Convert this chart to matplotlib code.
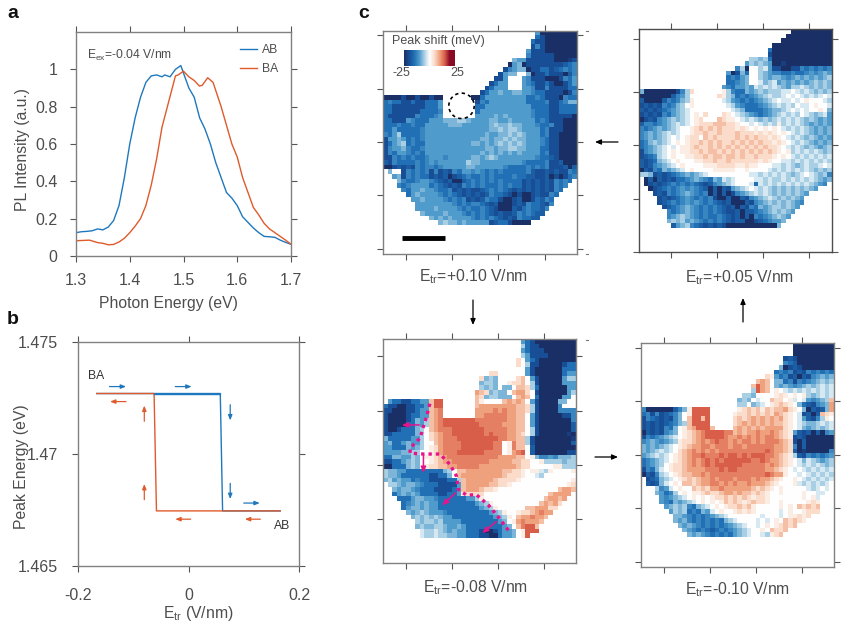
from matplotlib import pyplot as plt
from matplotlib.colors import LinearSegmentedColormap
import numpy as np

plt.rcParams['font.family'] = ['Liberation Sans', 'DejaVu Sans']
plt.rcParams['mathtext.default'] = 'regular'

# panel a spectra
e_ab = [1.30, 1.31, 1.32, 1.33, 1.34, 1.35, 1.36, 1.37, 1.38, 1.39, 1.40, 1.41, 1.42, 1.43, 1.44, 1.45, 1.46, 1.465, 1.475, 1.485, 1.495, 1.50, 1.51, 1.52, 1.53, 1.54, 1.55, 1.56, 1.57, 1.58, 1.59, 1.60, 1.61, 1.62, 1.63, 1.64, 1.65, 1.66, 1.67, 1.68, 1.69, 1.70]
i_ab = [.125, .13, .132, .135, .145, .14, .155, .19, .27, .42, .60, .74, .85, .93, .965, .97, .96, .97, .96, 1.0, 1.02, .98, .90, .85, .74, .68, .60, .50, .42, .34, .31, .27, .21, .18, .15, .125, .105, .103, .10, .085, .073, .063]
e_ba = [1.30, 1.31, 1.325, 1.34, 1.35, 1.36, 1.37, 1.38, 1.39, 1.40, 1.41, 1.42, 1.43, 1.44, 1.45, 1.46, 1.47, 1.48, 1.485, 1.49, 1.50, 1.51, 1.52, 1.53, 1.535, 1.545, 1.555, 1.57, 1.58, 1.59, 1.60, 1.61, 1.62, 1.63, 1.64, 1.65, 1.66, 1.67, 1.68, 1.69, 1.70]
i_ba = [.082, .083, .085, .072, .068, .06, .062, .075, .095, .125, .16, .20, .27, .38, .52, .69, .80, .91, .965, .97, .99, .96, .94, .91, .915, .955, .93, .80, .70, .60, .53, .42, .34, .26, .22, .175, .145, .125, .105, .085, .063]

# panel b hysteresis
field_up = [-0.166, -0.0623, 0.0575, 0.0617, 0.166]
peak_up = [1.4727, 1.4727, 1.4727, 1.46746, 1.46746]
field_down = [-0.166, -0.0623, -0.058, 0.166]
peak_down = [1.4727, 1.4727, 1.46746, 1.46746]

# panel c maps, columns grouped 10|10|10|12
# digit d means (d-5)*5 meV, letters a-i are the half steps 0.5-8.5, . is no data
map_p10 = [
    "..........|..........|..........|...300000000",
    "..........|..........|..........|...210000000",
    "..........|..........|..........|..2110000000",
    "..........|..........|..........|..1c10000000",
    "..........|..........|..........|.31110000000",
    "..........|..........|..........|.c1111100000",
    "..........|..........|........d3|3111111000a1",
    "..........|..........|.......03d|011111111b2c",
    "..........|..........|......1c3d|d011221b2c2c",
    "..........|..........|.....13dd5|5d01121110bc",
    "..........|..........|....113...|3c1110001c23",
    "..........|..........|...1233...|3c2112100123",
    "..........|..........|..12333...|33c11c111122",
    "..........|..........|.1233d33dd|33c22111101c",
    "0000100100|100......0|0233333333|322c21110c22",
    "2c22112112|223.......|1c23333333|32222c112cdd",
    "2211111112|223.......|2233333333|332222112222",
    "2211111122|22c.......|2333333333|33c222112222",
    "2111111c22|2c3.......|3333d3d333|33c222111110",
    "221113c222|333ddd44d3|333dd33d33|3332c2111000",
    "222c22c223|3333ddd333|333d4dd4dd|333c22c11000",
    "2232222 2c3|3333333333|333dd4d44d|33332c111000".replace(' ', ''),
    "c2342222c3|3333333333|33d33dd4d4|d3332c110000",
    "133d32c2c3|3333333333|3dd3dd4d4d|d333c2110000",
    "123d42c223|333333333d|d3d3d4d4d4|d333c2110000",
    "1c33dc22c3|3333333333|33dd3dd44d|d33322110000",
    "1c233c2c23|3333333333|3d3d3d3d3d|33332c110000",
    "11c2c2c22c|333c33333d|d3d4d33333|333c22b10000",
    "b1c2222c2c|3c3333334d|d333333333|c2222c11b000",
    "001b1b1c2c|c2c33333dd|333333c222|2c2c2c111b0b",
    ".d5.1c2c2c|1c1b1c233c|3c2c2c2222|2cb11b1b11c2",
    "..3d1c2c22|1b1b01b2c2|2c2c2222c2|2bb11b01012c",
    "...dc22c33|c2b1b00b2c|2c2c2c2222|1b1b1b1c2c2.",
    "...c2c3333|2c2b1b1c2c|2c222c2c22|1b1b1b1c2c..",
    "....c233d3|3c22c1b1b1|1b2c2c2b1b|1b1b1b1c2...",
    ".....23d33|33c2c2b1b1|b1bc22b101|001b11c2....",
    "......33d3|333c2c2c1b|1bc221001b|0012bc2.....",
    ".......333|33333c2c2c|c2b1b0001b|1c22b1c.....",
    ".......333|3d3333c2c2|2c2b1000b1|2c22bc......",
    "........d3|333d333c2c|2c2b1b11bc|2c2bb.......",
    "..........|d3d3d3333c|2c2c2b1b1c|22bb........",
    "..........|..d4dd3d33|3331b22100|00..........",
]
map_p05 = [
    "..........|..........|..........|...000000000",
    "..........|..........|..........|..0000000000",
    "..........|..........|..........|.00000000000",
    "..........|..........|.........0|000000000000",
    "..........|..........|........20|000000000000",
    "..........|..........|........10|000000000000",
    "..........|..........|....44d420|000000000000",
    "..........|..........|...34d4d30|0a0000000000",
    "..........|..........|.c405.4e31|10011c2c2c2c",
    "..........|.........3|01d2..4d3c|c22c22c3c3d3",
    "..........|.........2|c23d..4d3d|d3c3d3d3d3d4",
    "..........|.........2|2c3d..ed4e|3d3d3d3d4d4d",
    "..........|........3c|233d3e4e4e|4d344e4d4d4d",
    "d00000001c|46......f4|c22d3d4d44|4ee5e4e4d4d4",
    "0000000bc3|45.....6f4|d2c2c3d4e4|4e5e5e4e4e5e",
    "b0000bc2cd|4f......e4|3c2c2c3d4e|5ee5e5f555e4",
    "1b1b1c2cd4|5f.......e|43c222c3d4|e4e45ee5f55e",
    "b1b1b2c3d4|e5.......5|e4d2222c3d|d4e5e5e55f5d",
    "1b1b1c23d4|e5f.6...6f|5e4d3c2c3d|4e4e45e4d4e3",
    "01b1c3d4d4|e5f6...g6f|f5e4e4d4d4|e4e4e4d4d3d3",
    "bcc2c3d4e4|e5f666ggg6|6f55e5e4e4|f4e4e4d3d3d3",
    "c2c3d3d4e5|5f6g6g6g66|6f6f5f5f5f|5e4e4e4d3d3d",
    "c3d3d4e4e5|5f66g66g66|6g666f6f6f|5f5e4e4d3d3d",
    "c3d3d4e5e5|f66.g6g666|6g6g6g66f6|f5e4e4d4d3d3",
    "2cd4d4e5f5|f66g6g6g66|g6g6g6g66f|6f5e4e4d3d3d",
    "2c3d4e5e5f|f6g66g6g6g|6g6g6g6g66|f5e4e4d4d3d4",
    "1c3d4e5f5f|f66g6gg6g6|g6g6g6g6g6|f5f4e4e4e4d4",
    "1b2c4e5f55|ff66g6gg6g|g6g66g666f|5f5e4e4e4e4e",
    "b1b2d4e5f5|55ff66g66g|666666f6f5|5ee4e4e4e4e4",
    "b1bc3d4e5f|5555fff666|6ff6ff555e|e4e4d4e44e5e",
    "0b1c2d3d4e|5f5555ffff|f55f5555e4|e4e4e4e4d4d4",
    "44d1b1b2c3|d3d4e55555|5555ee4e4e|4e4d4e5e4d4c",
    ".0b0b1b122|c3d3c2d3e4|e5555ee4e4|4e4e4e4e4d3d",
    ".01b1b2c2c|2c2b1bc3d4|e555e2e4e4|e4e4e4e4d3c.",
    "..01b2c2c3|c3c2b0b0b1|3d4e5e4e4d|4d4d4d4d3...",
    "...1b1c2c3|d3c2c0b0b0|1c3d4e4e4d|4d4d4d3.....",
    "....1b1b2c|3c2c2c100b|00b1c3d4e4|d4d4d3......",
    "....1b2c2c|3c3c2c2b1b|000b1c3d4d|4d4d3c......",
    ".....1b2c3|d3c2c2c2b1|b0b1c2d3d4|4d4d3.......",
    "......c2c3|d3c2c2c2b1|1b0bb2c3d4|d4d3........",
    "......c3d4|d3c2c22c2b|1b0b0c2c3d|4d3.........",
    "......d4d4|3d3c2c2c2b|1bb001b2c3|3d..........",
    ".......b3d|4c2b1b1b10|0000000000|d...........",
]
map_m08 = [
    "..........|..........|..........|321000000000",
    "..........|..........|..........|421100000000",
    "..........|..........|..........|321110000000",
    "..........|..........|..........|431111000000",
    "..........|..........|.........6|532100000000",
    "..........|..........|.........6|541100000122",
    "..........|..........|..........|531000000222",
    "..........|..........|..566.....|531000000233",
    "..........|..........|.6d4d5..56|g53100000344",
    "..........|..........|.d44d55f66|g54100000333",
    "..........|..........|.4d4d5dd5g|g64200000033",
    "..........|..........|7g6d4dd5g7|765100000034",
    "..........|..........|g6d44ddd5g|7g5200000335",
    ".322112233|g88.......|gf5555g7g7|g5310000dd55",
    "2110011223|g88.......|g77777777g|g6410000c555",
    "1100011233|g7h.......|7777h7h77g|g6410000cccc",
    "1000012233|g7h.......|77hhhhh77g|g5310000011c",
    "1000012d34|g7h8888888|hhhhhhh77g|g5310000000c",
    "1000022d34|g7h8888888|8hhhhh777g|g5310000000b",
    "1001222d45|g7hhh88888|88hhhhh77g|g5410000000b",
    "1122222d45|6g7hh88888|88h8hhh77g|6541000000a0",
    "d222223345|6g7hhh8888|88888hh77g|g4100000000a",
    "3d223d3345|5g7hhhh888|8888hh5fhg|g4100000000b",
    "33222d3d45|f67hhhh888|8888hh5fhg|g5b000000000",
    "3333dd4455|f67hhh8888|88hhhh5f7h|85b000000011",
    "22dd334d5f|f6g7hhhhhh|hhhhh7777g|g5fdcc3cddd4",
    "11223d4d55|f6g77hhhhh|hhh77777gg|6655f4444d44",
    "00222d4d5f|66gg77hhhh|h77777777g|6655555ff444",
    "4dd3322222|222d45gg77|777777gg66|f5ffe4f5555f",
    "4dd3222222|1122d5g777|777777g666|f55e45555555",
    "d43d332c22|1111224g77|7777g6666f|55555555555f",
    ".44d3dd3c2|2211113g77|777gg66f55|5555555555f6",
    "..d3dd3c22|2111123g77|7g66f55555|55555555g77g",
    "..23d3d322|2211223f66|6655555555|555555g7777.",
    "...2223dd3|3c22222233|4f55555555|55555g77g7..",
    "....2c3d3d|3322222222|3d4f555555|5555g7g76...",
    "....23dd3d|3322222222|23d4f55555|5gg77766....",
    ".....d3d4d|333c222222|2223d4f55f|66g7h77.....",
    "......d4d4|d4d3322222|22223d4f5g|77h77g......",
    ".......4d4|4d43333222|222223d5f7|h777g.......",
    ".......d4d|d44d33d322|2222223d5g|h88g........",
    "........e4|4e4d3d3322|21001233d5|f888........",
    "........e4|4e44dd3322|21100233d5|f8..........",
]
map_m10 = [
    "..........|..........|..........|...000000000",
    "..........|..........|..........|...000000000",
    "..........|..........|..........|...000000000",
    "..........|..........|..........|.1b100000000",
    "..........|..........|..........|.c2b00000000",
    "..........|..........|..........|d01b10000000",
    "..........|..........|.........2|c2c1b1c2c2c2",
    "..........|..........|.......6f3|2c1b0b1c3d3d",
    "..........|..........|.....g7g5d|d2c1c2c3d4d4",
    "..........|..........|....g87g5d|3d3c3d4d4e4e",
    "..........|..........|...5487g5f|5e4e4e4e4e4e",
    "..........|..........|..44d5555f|6f5f5f4d4e4e",
    "..........|..........|.d4d5e55g6|65fe5e3c3d4g",
    "..........|..........|.445d4e5f6|g6f5d2b1c3d7",
    "c000000bcd|f8888.....|5f6g6gfg6g|g76f5d0b1bd7",
    "2c1c1b2cd5|f8888.....|f66g6g6g67|g6f5e1b0bg6f",
    "1c2b1b1cd5|g88g8.....|6g6g7g7g7g|76f5e3b1c4f5",
    "1b1b1b2cd4|g8888.....|6g7g7g7g7g|g6f5e4dd4e4e",
    "1b1b1c2d5f|g7888g....|g7g7g7g777|76f5ed3d4d4e",
    "0b1b1c3d5f|6g7h8888hh|g7g77h77h7|g6f3b1b0b0c3",
    "1c2c3d4e5f|6g7h8888h7|7h7h7h7hh7|g6f1b1000000",
    "c3d3c3d4f6|6g7h7h8hh7|h7hh7h7hhh|7g610b000000",
    "d3d3d4e5f6|g77hh7hhh7|hh7hhhhhh7|7g6c0b000000",
    "d3d4e4e56g|7h7h7h7hhh|hhhhhhh8h7|7g6b0a00000c",
    "3d4e4e5f6g|7hh8hhh8h8|8h8h888hh7|g6f4b1c2c2c3",
    "2c3d4e5f6g|7h7h8h8h88|8888hh8h77|g6f5ede4d3d4",
    "2c3d45f66g|7h7h8h8888|88hhhhh7h7|g6f5e4e4e4d4",
    "1c2de5f66g|7777hhh8h8|8hhhhhh77g|6f5e5e4e4e4e",
    "0b1c4e5f6g|g77h7hhhhh|hhhhhhh8h7|7f55e5e4e4e4",
    ".1b2d4e5f6|g6g77h7hhh|7hhh7h77g6|f55f5e4e4e4e",
    ".b1bde5f5g|g6g77hh7h7|h77h777g6f|555fe4e4e4e5",
    "...4c3e5f5|5g6g677h77|7777g6g6f5|f55555e4e5e.",
    "...d32c45f|5ff6g66g77|g7gg6g6f55|f5555f55ee5.",
    "....3c3d4e|5f5f5f66g6|g6g6f66f55|55555f5fe...",
    "....3c2d3d|4e5f5f5fg6|g6f6g66f55|f55555f6f...",
    ".....3d4d4|c2d4e5f5f6|6g6gf55555|f5f5g6g6g...",
    "......34d4|2c2d3e5f55|f6f6f55555|e5f55f666...",
    ".......dd3|c2c2c3d4e5|555555e555|e5ff6f6.....",
    ".......d3d|c2c2c2c2d4|e5555e5e5f|5g6g6f......",
    "........d3|d3c2c2c2c3|d4e55e5f5f|6g6g........",
    ".........d|3c2c2b2c2c|3d4e55f5g6|6g..........",
    "..........|d3d3c2c2c2|3d4e55e4f6|g...........",
]

# annotations on the -0.08 V/nm map, in cell units
wall_col = [10.2, 9.5, 8.8, 8.1, 5.9, 5.9, 8.8, 12.4, 14.6, 16.0, 16.4, 18.2, 20.3, 22.9, 25.0, 27.6]
wall_row = [14.0, 16.7, 18.9, 21.4, 23.6, 24.7, 24.9, 24.9, 27.2, 29.7, 32.6, 33.8, 33.7, 35.9, 38.4, 41.8]
wall_arrows = [((7.9, 18.6), (4.1, 18.6)), ((8.8, 25), (8.8, 29)), ((15.8, 33.3), (12.9, 36)), ((24.7, 39.5), (21.6, 42))]

blue = '#1f78bd'
orange = '#df5a2c'
grey = '#808080'
text_c = '#4d4d4d'
W, H = 841, 626

fig = plt.figure(figsize=(W / 100, H / 100), dpi=100)


def add_axes(x0, x1, y0, y1):
    return fig.add_axes([x0 / W, 1 - y1 / H, (x1 - x0) / W, (y1 - y0) / H])


def style(ax, color=grey, xpad=9, ypad=9):
    ax.tick_params(top=True, right=True, direction='out', length=4.5, width=0.8, color='#555555',
                   labelcolor=text_c, labelsize=11.5)
    ax.tick_params(axis='x', pad=xpad)
    ax.tick_params(axis='y', pad=ypad)
    for s in ax.spines.values():
        s.set_color(color)
        s.set_linewidth(1.0)


# a
ax = add_axes(76, 291, 32, 256)
ax.plot(e_ab, i_ab, color=blue, lw=1, label='AB')
ax.plot(e_ba, i_ba, color=orange, lw=1, label='BA')
ax.set_xlim(1.3, 1.7)
ax.set_ylim(0, 1.2)
ax.set_xticks([1.3, 1.4, 1.5, 1.6, 1.7])
ax.set_xticklabels(['1.3', '1.4', '1.5', '1.6', '1.7'])
ax.set_yticks([0, .2, .4, .6, .8, 1])
ax.set_yticklabels(['0', '0.2', '0.4', '0.6', '0.8', '1'])
ax.set_xlabel('Photon Energy (eV)', fontsize=11.3, color=text_c)
ax.set_ylabel('PL Intensity (a.u.)', fontsize=11.3, color=text_c)
ax.xaxis.set_label_coords(0.428, -0.18)
ax.yaxis.set_label_coords(-0.215, 0.473)
style(ax, xpad=8, ypad=9)
ax.text(1.32, 1.075, 'E$_{ex}$=-0.04 V/nm', fontsize=8.7, color=text_c, va='center')
leg = ax.legend(frameon=False, loc='upper left', bbox_to_anchor=(0.765, 0.945), fontsize=8.7, handlelength=1.4,
                handletextpad=0.4, labelspacing=0.55, borderpad=0, borderaxespad=0)
for t in leg.get_texts():
    t.set_color(text_c)

# b
ax = add_axes(78, 299, 342, 566)
ax.plot(field_up, peak_up, color=blue, lw=1)
ax.plot(field_down, peak_down, color=orange, lw=1)
ax.plot(field_up[1:3], peak_up[1:3], color=blue, lw=1)
ax.set_xlim(-0.2, 0.2)
ax.set_ylim(1.465, 1.475)
ax.set_xticks([-0.2, 0, 0.2])
ax.set_xticklabels(['-0.2', '0', '0.2'])
ax.set_yticks([1.465, 1.47, 1.475])
ax.set_yticklabels(['1.465', '1.47', '1.475'])
ax.set_xlabel('E$_{tr}$ (V/nm)', fontsize=11.3, color=text_c)
ax.set_ylabel('Peak Energy (eV)', fontsize=11.3, color=text_c)
ax.xaxis.set_label_coords(0.543, -0.17)
ax.yaxis.set_label_coords(-0.22, 0.442)
style(ax, xpad=11, ypad=10)
ax.text(-0.168, 1.4735, 'BA', fontsize=8.7, color='#333333', ha='center', va='center')
ax.text(0.169, 1.4668, 'AB', fontsize=8.7, color='#333333', ha='center', va='center')
blue_arrows = [((-0.143, 1.47301), (-0.113, 1.47301)), ((-0.024, 1.47301), (0.0057, 1.47301)),
               ((0.0755, 1.4722), (0.0755, 1.4715)), ((0.0755, 1.46869), (0.0755, 1.46799)),
               ((0.1, 1.46781), (0.129, 1.46781))]
orange_arrows = [((-0.113, 1.47234), (-0.142, 1.47234)), ((-0.08, 1.47146), (-0.08, 1.47216)),
                 ((-0.08, 1.46796), (-0.08, 1.46866)), ((0.004, 1.46709), (-0.024, 1.46709)),
                 ((0.13, 1.46709), (0.102, 1.46709))]
for arrows, c in [(blue_arrows, blue), (orange_arrows, orange)]:
    for a, b in arrows:
        ax.annotate('', xy=b, xytext=a, arrowprops=dict(arrowstyle='-|>,head_width=0.12,head_length=0.3',
                                                        color=c, lw=0.9, shrinkA=0, shrinkB=0))

# c
cmap = LinearSegmentedColormap.from_list('shift', ['#1a2f66', '#174f96', '#2270b5', '#4f9bcb', '#abd0e6', '#ffffff',
                                                   '#fbdccb', '#f0a27f', '#d9604a', '#8a0a25'])
half_steps = 'abcdefghi'


def parse(rows):
    grid = np.full((len(rows), 42), np.nan)
    for i, row in enumerate(rows):
        for j, c in enumerate(row.replace('|', '')[:42]):
            if c.isdigit():
                grid[i, j] = (int(c) - 5) * 5
            elif c in half_steps:
                grid[i, j] = (half_steps.index(c) + 0.5 - 5) * 5
    return grid


def draw_map(rows, box, xt, yt, label, label_x, label_y, spine=grey):
    ax = add_axes(*box)
    ax.imshow(parse(rows), cmap=cmap, vmin=-25, vmax=20, extent=(0, 42, len(rows), 0), interpolation='nearest',
              aspect='auto')
    ax.set_xlim(0, 42)
    ax.set_ylim((box[3] - box[2]) / 4.62, 0)
    ax.set_xticks(xt)
    ax.set_yticks(yt)
    ax.set_xticklabels([])
    ax.set_yticklabels([])
    style(ax, color=spine)
    fig.text(label_x / W, 1 - label_y / H, label, fontsize=11.3, color=text_c, ha='center', va='center')
    return ax


ax1 = draw_map(map_p10, (383, 577, 31, 254), [5, 15, 25, 35], [0.9, 12.5, 24, 35.6, 47.2], 'E$_{tr}$=+0.10 V/nm', 474, 277)
draw_map(map_p05, (639, 832, 29, 252), [7, 17, 27, 37], [2.2, 13.7, 25.2, 36.7, 48.2], 'E$_{tr}$=+0.05 V/nm', 740, 278, '#4d4d4d')
ax3 = draw_map(map_m08, (383, 576, 339, 563), [5, 15, 25, 35], [3.6, 15.5, 27.2, 39], 'E$_{tr}$=-0.08 V/nm', 476, 588)
draw_map(map_m10, (641, 834, 343, 567), [5, 15, 25, 35], [1.1, 12.6, 24.2, 35.7, 47.4], 'E$_{tr}$=-0.10 V/nm', 738, 590)

# scale bar and probe circle
ax1.plot([4.1, 13.5], [44.7, 44.7], color='black', lw=3.5, solid_capstyle='butt')
theta = np.linspace(0, 2 * np.pi, 60)
ax1.plot(17 + 2.75 * np.cos(theta), 16.2 + 2.75 * np.sin(theta), color='black', lw=1.2, ls=(0, (2, 2)))

# domain wall
ax3.plot(wall_col, wall_row, color='#e6148c', lw=2.4, ls=(0, (1, 1.2)))
for a, b in wall_arrows:
    ax3.annotate('', xy=b, xytext=a, arrowprops=dict(arrowstyle='-|>,head_width=0.15,head_length=0.35',
                                                     color='#e6148c', lw=1.1, shrinkA=0, shrinkB=0))

# colour bar inside the first map
cax = add_axes(404, 455, 50, 66)
cax.imshow(np.linspace(-25, 25, 200)[None, :], cmap=cmap, vmin=-25, vmax=20, aspect='auto')
cax.axis('off')
fig.text(438 / W, 1 - 41 / H, 'Peak shift (meV)', fontsize=9, color=text_c, ha='center', va='center')
fig.text(401 / W, 1 - 73 / H, '-25', fontsize=9, color=text_c, ha='center', va='center')
fig.text(457 / W, 1 - 73 / H, '25', fontsize=9, color=text_c, ha='center', va='center')

# arrows between the maps
for a, b in [((473, 300), (473, 325)), ((743, 322), (743, 298)), ((618, 142), (595, 142)), ((595, 457), (618, 457))]:
    fig.add_artist(plt.Annotation('', xy=(b[0] / W, 1 - b[1] / H), xytext=(a[0] / W, 1 - a[1] / H),
                                  xycoords='figure fraction', textcoords='figure fraction',
                                  arrowprops=dict(arrowstyle='-|>,head_width=0.15,head_length=0.35', color='black',
                                                  lw=0.9, shrinkA=0, shrinkB=0)))

# stray tick marks next to the left column of maps
for y in [31, 254, 340]:
    fig.add_artist(plt.Line2D([586 / W, 588 / W], [1 - y / H, 1 - y / H], color='#777777', lw=0.8))

for s, x, y in [('a', 7, 13), ('b', 7, 319), ('c', 358, 13)]:
    fig.text(x / W, 1 - y / H, s, fontsize=14, fontweight='bold', color='#111111', va='center')

fig.savefig('out.png', dpi=100)
